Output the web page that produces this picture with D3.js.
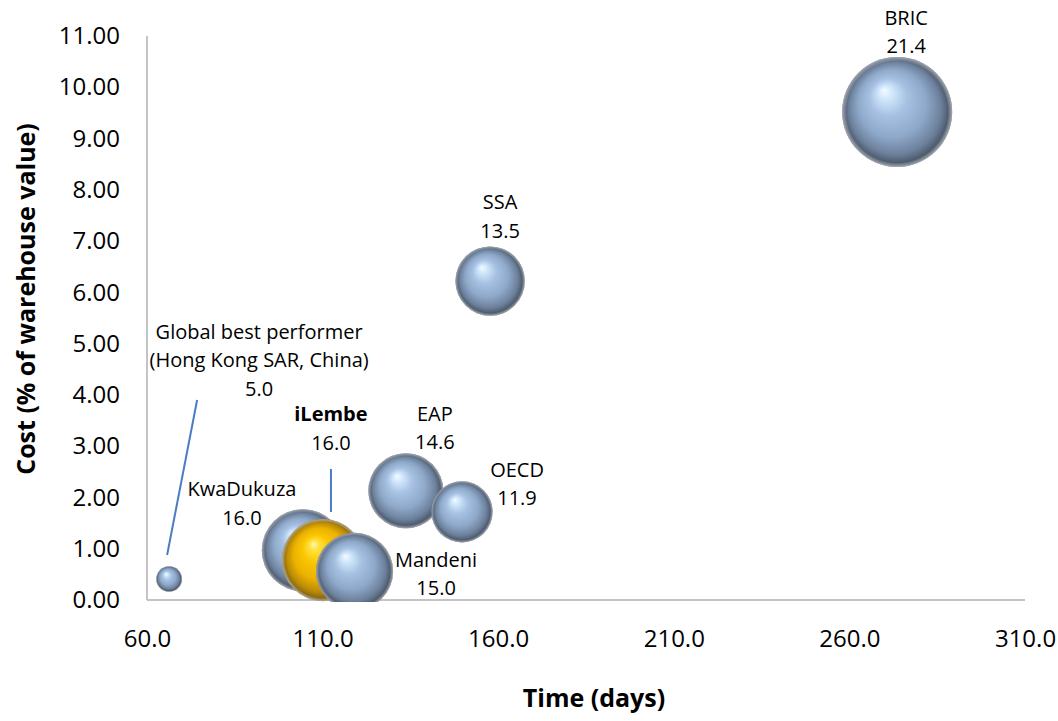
<!DOCTYPE html>
<html>
<head>
<meta charset="utf-8">
<script src="https://cdn.jsdelivr.net/npm/d3@7/dist/d3.min.js"></script>
<style>
  html, body { margin: 0; padding: 0; background: #ffffff; }
  svg { display: block; font-family: "Open Sans", "Noto Sans", sans-serif; }
</style>
</head>
<body>
<svg id="chart" width="1058" height="721"></svg>
<script>
// Logistics cost vs. time, bubble size = third indicator shown in each label
const regions    = ["Global best performer|(Hong Kong SAR, China)", "KwaDukuza", "iLembe", "Mandeni", "EAP", "OECD", "SSA", "BRIC"];
const timeDays   = [66.3, 104.4, 110.1, 119.1, 133.7, 149.7, 157.7, 273.6];
const costPct    = [0.41, 0.97, 0.78, 0.56, 2.13, 1.72, 6.22, 9.52];
const bubbleSize = [5.0, 16.0, 16.0, 15.0, 14.6, 11.9, 13.5, 21.4];
const highlight  = ["iLembe"];

const xTicks = [60, 110, 160, 210, 260, 310];
const yTicks = [0, 1, 2, 3, 4, 5, 6, 7, 8, 9, 10, 11];

const xTitle = "Time (days)";
const yTitle = "Cost (% of warehouse value)";

// label placement relative to the bubble centre (px); leader = [x1, y1, x2, y2]
const labelLayout = {
  "Global best performer|(Hong Kong SAR, China)": { dx: 90, dy: -240, leader: [28, -179, -2, -24] },
  "KwaDukuza": { dx: -61, dy: -54 },
  "iLembe":    { dx: 8,   dy: -139, leader: [8, -91, 8, -48] },
  "Mandeni":   { dx: 81.5, dy: -4.5 },
  "EAP":       { dx: 29,  dy: -70 },
  "OECD":      { dx: 55,  dy: -35 },
  "SSA":       { dx: 10,  dy: -72 },
  "BRIC":      { dx: 9,   dy: -87 }
};

const svg = d3.select("#chart");
const plot = { left: 147, right: 1025, top: 36, bottom: 600 };

const x = d3.scaleLinear().domain([60, 310]).range([plot.left, plot.right]);
const y = d3.scaleLinear().domain([0, 11]).range([plot.bottom, plot.top]);
const r = d3.scaleLinear().domain([0, d3.max(bubbleSize)]).range([0, 55]);

const defs = svg.append("defs");

function sphereGradient(id, stops) {
  const g = defs.append("radialGradient")
    .attr("id", id)
    .attr("cx", "50%").attr("cy", "50%").attr("r", "50%")
    .attr("fx", "38%").attr("fy", "30%");
  stops.forEach(([o, c]) => g.append("stop").attr("offset", o).attr("stop-color", c));
}
sphereGradient("sphereBlue", [
  ["0%", "#f4fcff"], ["12%", "#d2e8fc"], ["34%", "#a6c1e2"],
  ["62%", "#8ea8c9"], ["84%", "#6c809b"], ["100%", "#3e4856"]
]);
sphereGradient("sphereGold", [
  ["0%", "#fff7b0"], ["12%", "#ffe23e"], ["34%", "#fac600"],
  ["62%", "#ecb200"], ["84%", "#bb8b06"], ["100%", "#6e561c"]
]);
// soft light rim around each sphere
const rim = defs.append("radialGradient").attr("id", "sphereRim")
  .attr("cx", "50%").attr("cy", "50%").attr("r", "50%");
[["0%", "rgba(255,255,255,0)"], ["92%", "rgba(255,255,255,0)"], ["98%", "rgba(232,235,240,0.45)"], ["100%", "rgba(205,210,216,0.7)"]]
  .forEach(([o, c]) => rim.append("stop").attr("offset", o).attr("stop-color", c));

defs.append("clipPath").attr("id", "plotClip")
  .append("rect")
  .attr("x", plot.left).attr("y", plot.top - 2)
  .attr("width", plot.right - plot.left).attr("height", plot.bottom - plot.top + 4);

// axes
const yAxis = svg.append("g")
  .attr("transform", `translate(${plot.left},0)`)
  .call(d3.axisLeft(y).tickValues(yTicks).tickSize(0).tickPadding(27).tickFormat(d3.format(".2f")));
const xAxis = svg.append("g")
  .attr("transform", `translate(0,${plot.bottom})`)
  .call(d3.axisBottom(x).tickValues(xTicks).tickSize(0).tickPadding(30).tickFormat(d3.format(".1f")));

[yAxis, xAxis].forEach(a => {
  a.select(".domain").attr("stroke", "#c4c4c4").attr("stroke-width", 2);
  a.selectAll("text").attr("font-size", 24).attr("fill", "#000").attr("font-family", "\"Open Sans\", sans-serif");
});
yAxis.select(".domain").attr("d", `M0,${plot.top}V${plot.bottom}`);
xAxis.select(".domain").attr("d", `M${plot.left},0H${plot.right}`);

// axis titles
svg.append("text")
  .attr("x", (plot.left + plot.right) / 2 + 8).attr("y", 707)
  .attr("text-anchor", "middle")
  .attr("font-size", 25).attr("font-weight", "bold").attr("fill", "#000")
  .text(xTitle);
svg.append("text")
  .attr("transform", `translate(35,${(plot.top + plot.bottom) / 2 - 19}) rotate(-90)`)
  .attr("text-anchor", "middle")
  .attr("font-size", 25).attr("font-weight", "bold").attr("fill", "#000")
  .text(yTitle);

// bubbles, largest drawn first
const points = regions.map((name, i) => ({
  name, t: timeDays[i], c: costPct[i], s: bubbleSize[i], i
}));
const order = points.slice().sort((a, b) => d3.descending(a.s, b.s) || d3.ascending(a.i, b.i));

const bubbles = svg.append("g").attr("clip-path", "url(#plotClip)");
const bg = bubbles.selectAll("g.bubble").data(order).join("g").attr("class", "bubble");
bg.append("circle")
  .attr("cx", d => x(d.t)).attr("cy", d => y(d.c)).attr("r", d => r(d.s))
  .attr("fill", d => highlight.includes(d.name) ? "url(#sphereGold)" : "url(#sphereBlue)");
bg.append("circle")
  .attr("cx", d => x(d.t)).attr("cy", d => y(d.c)).attr("r", d => r(d.s))
  .attr("fill", "url(#sphereRim)");

// leader lines and data labels
const labels = svg.append("g");
points.forEach(d => {
  const L = labelLayout[d.name];
  const cx = x(d.t), cy = y(d.c);
  if (L.leader) {
    labels.append("line")
      .attr("x1", cx + L.leader[0]).attr("y1", cy + L.leader[1])
      .attr("x2", cx + L.leader[2]).attr("y2", cy + L.leader[3])
      .attr("stroke", "#4a7cc4").attr("stroke-width", 2);
  }
  const lines = d.name.split("|").concat([d3.format(".1f")(d.s)]);
  const t = labels.append("text")
    .attr("x", cx + L.dx).attr("y", cy + L.dy)
    .attr("text-anchor", "middle")
    .attr("font-size", 20).attr("fill", "#000");
  lines.forEach((ln, k) => {
    t.append("tspan")
      .attr("x", cx + L.dx).attr("dy", k === 0 ? 0 : 28.5)
      .attr("font-weight", (k === 0 && highlight.includes(d.name)) ? "bold" : null)
      .text(ln);
  });
});
</script>
</body>
</html>
